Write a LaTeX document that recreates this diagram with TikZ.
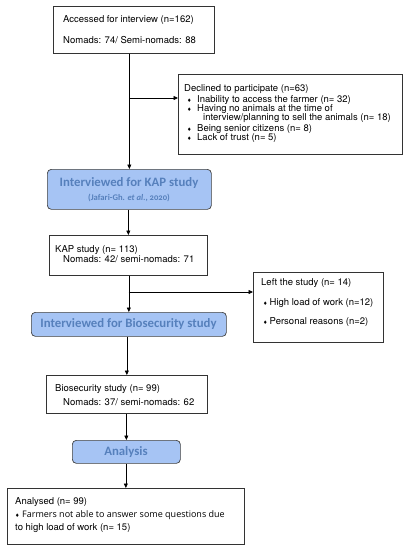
\documentclass[tikz,border=0pt]{standalone}
\usepackage{fontspec}
\setmainfont{TeX Gyre Heros}
\newfontfamily\carlito{Carlito}
\newfontfamily\carlitoos{Carlito}[Numbers=OldStyle]
\newfontfamily\opensans{Open Sans}
\newfontfamily\dejavu{DejaVu Sans}
\usetikzlibrary{arrows.meta}
\definecolor{kfill}{RGB}{166,196,244}
\definecolor{ktext}{RGB}{86,128,188}
\newcommand\dbul{{\dejavu\fontsize{5}{5}\selectfont ♦}}
\begin{document}
\begin{tikzpicture}[x=1pt,y=-1pt,
 box/.style={draw=black!80, line width=0.7pt, inner sep=0pt, anchor=north west},
 rbox/.style={draw=black!75, line width=0.7pt, fill=kfill, rounded corners=4pt, inner sep=0pt, anchor=north west},
 txt/.style={anchor=base west, inner sep=0pt, font=\fontsize{9.5}{11}\selectfont},
 htxt/.style={inner sep=0pt, text=ktext, font=\carlito\bfseries\fontsize{12.8}{14}\selectfont},
 stxt/.style={inner sep=0pt, text=ktext, font=\carlitoos\bfseries\fontsize{8.6}{10}\selectfont},
 arr/.style={line width=0.7pt, -{Triangle[length=4.5pt,width=4pt]}},
 ln/.style={line width=0.7pt}]
\useasboundingbox (0,0) rectangle (409,550);
\fill[white] (0,0) rectangle (409,550);

% boxes
\node[box, minimum width=161pt, minimum height=47pt] (b1) at (53,6) {};
\node[box, minimum width=224pt, minimum height=80pt] (b2) at (178,74) {};
\node[rbox, minimum width=164pt, minimum height=40pt] (kap) at (47,169) {};
\node[box, minimum width=158pt, minimum height=40pt] (b3) at (49,235) {};
\node[box, minimum width=130pt, minimum height=70pt] (b4) at (253,272) {};
\node[rbox, minimum width=195pt, minimum height=24pt] (bio) at (31,312) {};
\node[box, minimum width=161pt, minimum height=38pt] (b5) at (46,375) {};
\node[rbox, minimum width=108pt, minimum height=23pt] (ana) at (72,440) {};
\node[box, minimum width=237pt, minimum height=56pt] (b6) at (7,488) {};

% texts
\node[txt] (t1) at (63,22.5) {Accessed for interview (n=162)};
\node[txt] (t2) at (63,43.5) {Nomads: 74/ Semi-nomads: 88};

\node[txt] (t3) at (184,91.5) {Declined to participate (n=63)};
\node[txt] (t4) at (187,102.5) {\makebox[10pt][l]{\dbul}Inability to access the farmer (n= 32)};
\node[txt] (t5) at (187,111.5) {\makebox[10pt][l]{\dbul}Having no animals at the time of};
\node[txt] (t6) at (203,120.5) {interview/planning to sell the animals (n= 18)};
\node[txt] (t7) at (187,131.5) {\makebox[10pt][l]{\dbul}Being senior citizens (n= 8)};
\node[txt] (t8) at (187,140.5) {\makebox[10pt][l]{\dbul}Lack of trust (n= 5)};

\node[htxt] (t9) at (129,183) {Interviewed for KAP study};
\node[stxt] (t10) at (129,198) {(Jafari-Gh. \textit{et al.}, 2020)};

\node[txt] (t11) at (55,252.5) {KAP study (n= 113)};
\node[txt] (t12) at (63,262.5) {Nomads: 42/ semi-nomads: 71};

\node[txt] (t13) at (261,285.5) {Left the study (n= 14)};
\node[txt] (t14) at (263,305.5) {\makebox[6.5pt][l]{\dbul}High load of work (n=12)};
\node[txt] (t15) at (263,324.5) {\makebox[6.5pt][l]{\dbul}Personal reasons (n=2)};

\node[htxt] (t16) at (128.5,324.5) {Interviewed for Biosecurity study};

\node[txt] (t17) at (55,391.5) {Biosecurity study (n= 99)};
\node[txt] (t18) at (63,405) {Nomads: 37/ semi-nomads: 62};

\node[htxt] (t19) at (126,452) {Analysis};

\node[txt] (t20) at (15,504.5) {Analysed (n= 99)};
\node[txt, font=\opensans\fontsize{9}{11}\selectfont] (t21) at (15,517.5) {\makebox[7pt][l]{\dbul}Farmers not able to answer some questions due};
\node[txt] (t22) at (15,530.5) {to high load of work (n= 15)};

% connectors
\draw[arr] (kap.north |- b1.south) -- (kap.north);
\coordinate (j1) at (129,98);
\draw[arr] (j1) -- (j1 -| b2.west);
\draw[arr] (b3.north |- kap.south) -- (b3.north);
\draw[arr] (bio.north |- b3.south) -- (bio.north);
\coordinate (j2) at (128.5,292);
\draw[arr] (j2) -- (j2 -| b4.west);
\draw[arr] (b5.north |- bio.south) -- (b5.north);
\draw[arr] (ana.north |- b5.south) -- (ana.north);
\draw[arr] (b6.north |- ana.south) -- (b6.north);
\end{tikzpicture}
\end{document}
